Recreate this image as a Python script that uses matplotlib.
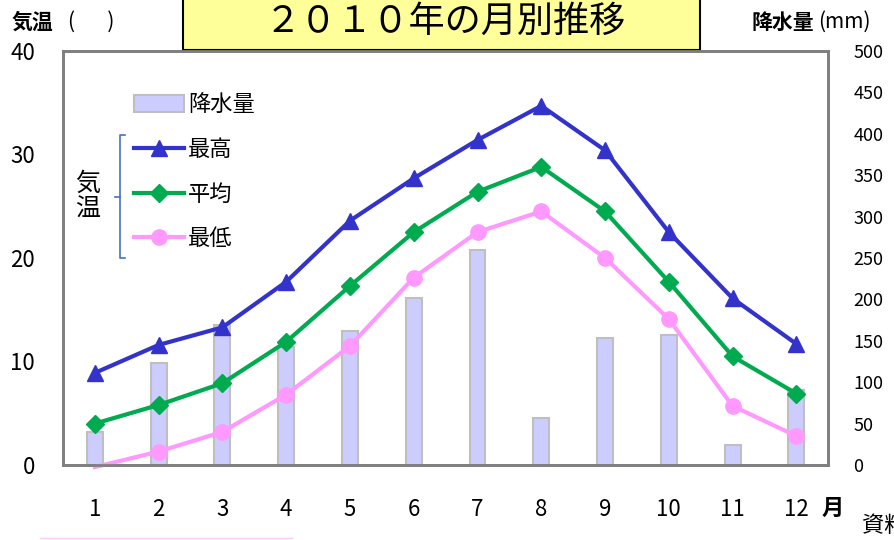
import numpy as np
import matplotlib.pyplot as plt
from matplotlib.lines import Line2D
from matplotlib.patches import Rectangle, Patch

plt.rcParams['font.family'] = ['Noto Sans CJK JP', 'DejaVu Sans']

months = ['1', '2', '3', '4', '5', '6', '7', '8', '9', '10', '11', '12']
t_max = [8.9, 11.6, 13.3, 17.7, 23.6, 27.7, 31.4, 34.7, 30.4, 22.5, 16.1, 11.7]
t_avg = [4.0, 5.8, 7.9, 11.9, 17.3, 22.5, 26.4, 28.8, 24.5, 17.7, 10.5, 6.9]
t_min = [-0.2, 1.3, 3.2, 6.8, 11.5, 18.1, 22.5, 24.5, 20.0, 14.1, 5.7, 2.8]
rain = [40, 123, 169, 143, 162, 202, 260, 57, 153, 157, 24, 91]

x = np.arange(len(months)) + 0.5

fig = plt.figure(figsize=(8.95, 5.4), dpi=100)
ax = fig.add_axes([0.0704, 0.1389, 0.855, 0.7667])
ax2 = ax.twinx()

# bars on the right axis, lines drawn over them
ax2.bar(x, rain, width=0.25, color='#CCCCFF', edgecolor='#BFBFBF', linewidth=1.5)
ax.set_zorder(ax2.get_zorder() + 1)
ax.patch.set_visible(False)

ax.plot(x, t_max, color='#3333CC', lw=3, marker='^', ms=11)
ax.plot(x, t_avg, color='#00AA4F', lw=3, marker='D', ms=9)
ax.plot(x, t_min, color='#FF99FF', lw=3, marker='o', ms=11, markevery=list(range(1, 12)),
        clip_on=False)

ax.set_xlim(0, 12)
ax.set_ylim(0, 40)
ax2.set_ylim(0, 500)
ax.set_xticks(x)
ax.set_xticklabels(months)
ax.set_yticks([0, 10, 20, 30, 40])
ax2.set_yticks(np.arange(0, 501, 50))

ax.tick_params(axis='x', length=0, pad=24, labelsize=16)
ax.tick_params(axis='y', length=0, pad=20, labelsize=16)
ax2.tick_params(axis='y', length=0, pad=18, labelsize=13)
for a in (ax, ax2):
    for s in a.spines.values():
        s.set_color('#808080')
        s.set_linewidth(2)

# legend
handles = [Patch(facecolor='#CCCCFF', edgecolor='#BFBFBF', linewidth=1.5),
           Line2D([], [], color='#3333CC', lw=3, marker='^', ms=11),
           Line2D([], [], color='#00AA4F', lw=3, marker='D', ms=9),
           Line2D([], [], color='#FF99FF', lw=3, marker='o', ms=11)]
ax.legend(handles, ['降水量', '最高', '平均', '最低'], loc='upper left',
          bbox_to_anchor=(0.078, 0.925), frameon=False, fontsize=16, borderpad=0,
          handlelength=2.25, handleheight=0.8, handletextpad=0.2, labelspacing=0.98)

# bracket for 気温
bx = 120 / 895
y1, y2, ym = 1 - 135 / 540, 1 - 258 / 540, 1 - 197 / 540
fig.add_artist(Line2D([bx + 0.006, bx, bx, bx + 0.006], [y1, y1, y2, y2],
                      color='#4472C4', lw=1.2))
fig.add_artist(Line2D([bx - 0.006, bx], [ym, ym], color='#4472C4', lw=1.2))
fig.text(88 / 895, ym, '気\n温', fontsize=18, ha='center', va='center', linespacing=1.0)

# title box
fig.add_artist(Rectangle((183 / 895, 1 - 50 / 540), 517 / 895, 0.2,
                         facecolor='#FFFF99', edgecolor='black', lw=1.5))
fig.text(0.497, 1 - 22 / 540, '２０１０年の月別推移', fontsize=26,
         ha='center', va='center')

fig.text(12 / 895, 1 - 22 / 540, '気温', fontsize=15, fontweight='bold', va='center')
fig.text(68 / 895, 1 - 22 / 540, '(       )', fontsize=15, va='center')
fig.text(752 / 895, 1 - 22 / 540, '降水量', fontsize=15, fontweight='bold', va='center')
fig.text(818 / 895, 1 - 22 / 540, '(mm)', fontsize=15, va='center')
fig.text(822 / 895, 1 - 508 / 540, '月', fontsize=16, fontweight='bold', va='center')
fig.text(862 / 895, 1 - 525 / 540, '資料', fontsize=16, va='center')
fig.add_artist(Line2D([40 / 895, 292 / 895], [1 - 538 / 540] * 2, color='#FFCCEE', lw=1))

fig.savefig('out.png', dpi=100)
